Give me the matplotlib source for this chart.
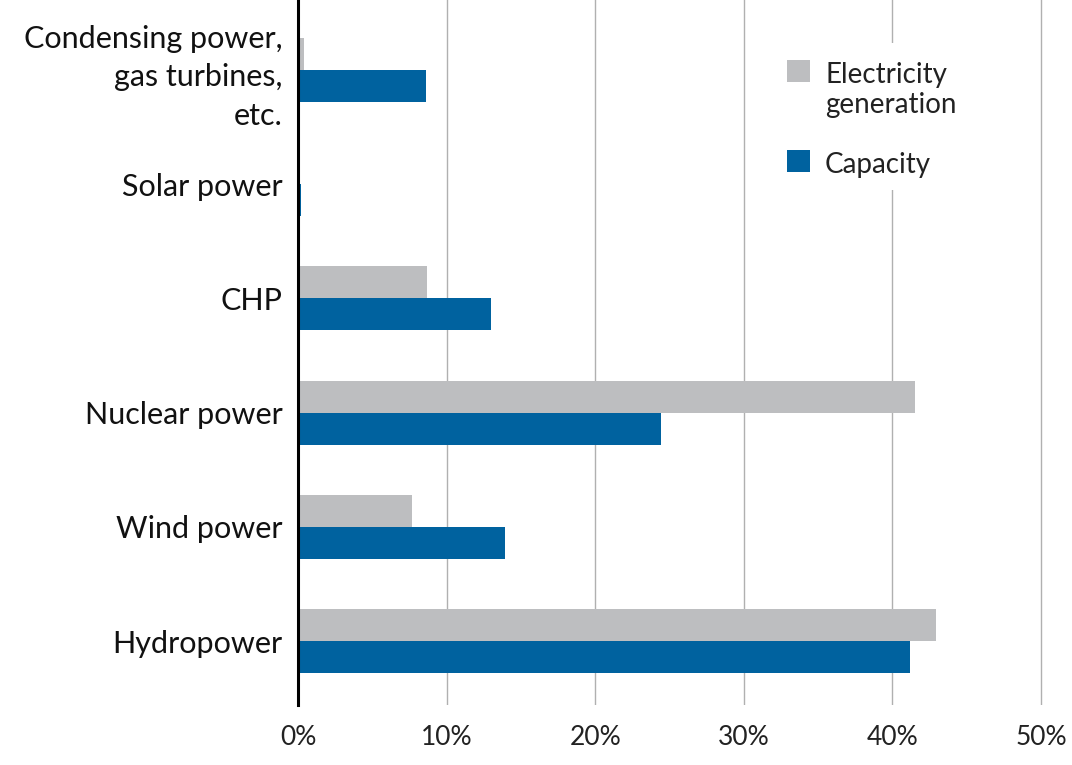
import numpy as np
import matplotlib.pyplot as plt
from matplotlib.patches import Rectangle

plt.rcParams['font.family'] = ['Lato', 'DejaVu Sans']

categories = ['Hydropower', 'Wind power', 'Nuclear power', 'CHP', 'Solar power',
              'Condensing power,\ngas turbines,\netc.']
generation = [42.9, 7.7, 41.5, 8.7, 0.0, 0.4]   # Electricity generation, %
capacity = [41.2, 13.9, 24.4, 13.0, 0.2, 8.6]    # Capacity, %
ticks = [0, 10, 20, 30, 40, 50]

grey = '#bdbec0'
blue = '#00629f'

fig = plt.figure(figsize=(10.72, 7.65), dpi=100)
# x axis runs 0..51 so the 50% gridline is not clipped at the edge
ax = fig.add_axes([0.278, 0.078, 0.707, 0.922])

y = np.arange(len(categories))
h = 0.28
ax.barh(y + h / 2, generation, h, color=grey, zorder=3)
ax.barh(y - h / 2, capacity, h, color=blue, zorder=3)

ax.set_xlim(0, 51)
ax.set_ylim(-0.56, 5.61)
ax.set_xticks(ticks)
ax.set_xticklabels(['%d%%' % t for t in ticks], fontsize=19, color='#222222')
ax.set_yticks(y)
ax.set_yticklabels(categories, fontsize=22, color='#111111', multialignment='right')
ax.get_yticklabels()[-1].set_linespacing(1.45)
ax.tick_params(axis='x', length=0, pad=14)
ax.tick_params(axis='y', length=0, pad=11)

ax.grid(axis='x', color='#b0b0b0', linewidth=1, zorder=0)
ax.set_axisbelow(True)
for s in ['top', 'right', 'bottom']:
    ax.spines[s].set_visible(False)
ax.spines['left'].set_linewidth(2.2)
ax.spines['left'].set_color('black')
ax.spines['left'].set_zorder(5)

# legend, drawn by hand in pixel-like figure coords
W, H = 1072, 765
def fx(px):
    return px / W
def fy(py):
    return 1 - py / H

fig.patches.append(Rectangle((fx(775), fy(190)), fx(200), 147 / H, transform=fig.transFigure,
                             facecolor='white', edgecolor='none', zorder=6))
fig.patches.append(Rectangle((fx(787), fy(82)), fx(23), 22 / H, transform=fig.transFigure,
                             facecolor=grey, edgecolor='none', zorder=7))
fig.patches.append(Rectangle((fx(787), fy(172)), fx(23), 22 / H, transform=fig.transFigure,
                             facecolor=blue, edgecolor='none', zorder=7))
fig.text(fx(825), fy(83), 'Electricity', fontsize=20, color='#222222', va='baseline', zorder=8)
fig.text(fx(825), fy(113), 'generation', fontsize=20, color='#222222', va='baseline', zorder=8)
fig.text(fx(825), fy(173), 'Capacity', fontsize=20, color='#222222', va='baseline', zorder=8)

fig.savefig('out.png', dpi=100, facecolor='white')
